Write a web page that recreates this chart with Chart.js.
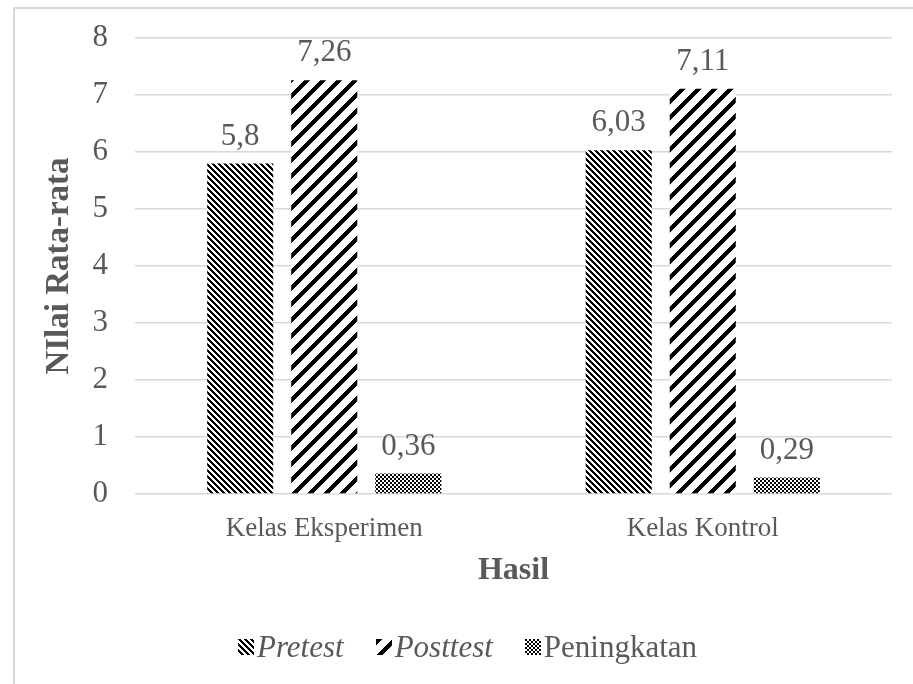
<!DOCTYPE html>
<html>
<head>
<meta charset="utf-8">
<script src="https://cdn.jsdelivr.net/npm/chart.js@4.4.1/dist/chart.umd.min.js"></script>
<style>
  html, body { margin:0; padding:0; background:#fff; }
  body { width:913px; height:684px; position:relative; overflow:hidden; }
  #frame { position:absolute; left:13px; top:7px; width:960px; height:720px;
           border-left:2px solid #d9d9d9; border-top:2px solid #d9d9d9; box-sizing:border-box; }
  #wrap { position:absolute; left:0; top:0; width:913px; height:684px; }
  #legend { position:absolute; left:238px; top:629px; height:36px; display:flex; align-items:center;
            font-family:"Liberation Serif","Times New Roman",serif; font-size:31px; color:#595959; white-space:nowrap; }
  .item { display:flex; align-items:center; margin-right:32px; }
  .item canvas { width:16px; height:16px; margin-right:3px; }
</style>
</head>
<body>
<div id="frame"></div>
<div id="wrap"><canvas id="c"></canvas></div>
<div id="legend"></div>
<script>
// ---- data ----
const categories = ['Kelas Eksperimen', 'Kelas Kontrol'];
const seriesLabels = ['Pretest', 'Posttest', 'Peningkatan'];
const pretest = [5.8, 6.03];
const posttest = [7.26, 7.11];
const peningkatan = [0.36, 0.29];
const yTicks = [0, 1, 2, 3, 4, 5, 6, 7, 8];
const xTitle = 'Hasil';
const yTitle = 'NIlai Rata-rata';

const FONT = '"Liberation Serif","Times New Roman",serif';
const TXT = '#595959';

function makePattern(size, fn) {
  const cv = document.createElement('canvas');
  cv.width = size; cv.height = size;
  const cx = cv.getContext('2d');
  const img = cx.createImageData(size, size);
  for (let y = 0; y < size; y++) for (let x = 0; x < size; x++) {
    const i = (y * size + x) * 4;
    const b = fn(x, y);
    img.data[i] = img.data[i+1] = img.data[i+2] = b ? 0 : 255;
    img.data[i+3] = 255;
  }
  cx.putImageData(img, 0, 0);
  return cx.createPattern(cv, 'repeat');
}
const pPre = makePattern(6, (x, y) => (((x - y) % 6) + 6) % 6 < 3);
const pPost = makePattern(16, (x, y) => ((x + y) % 16) < 6);
const pInc = makePattern(4, (x, y) => ((Math.floor(x/2) + Math.floor(y/2)) % 2) === 0);
const patterns = [pPre, pPost, pInc];
const italic = [true, true, false];

const valueLabels = {
  id: 'valueLabels',
  afterDatasetsDraw(chart) {
    const ctx = chart.ctx;
    ctx.save();
    ctx.font = '31px ' + FONT;
    ctx.fillStyle = TXT;
    ctx.textAlign = 'center';
    ctx.textBaseline = 'middle';
    chart.data.datasets.forEach((ds, di) => {
      chart.getDatasetMeta(di).data.forEach((el, i) => {
        const v = ds.data[i];
        ctx.fillText(String(v).replace('.', ','), el.x, el.y - 27);
      });
    });
    ctx.restore();
  }
};

const chart = new Chart(document.getElementById('c'), {
  type: 'bar',
  data: {
    labels: categories,
    datasets: [
      { label: seriesLabels[0], data: pretest, backgroundColor: pPre },
      { label: seriesLabels[1], data: posttest, backgroundColor: pPost },
      { label: seriesLabels[2], data: peningkatan, backgroundColor: pInc }
    ]
  },
  options: {
    responsive: true,
    maintainAspectRatio: false,
    animation: false,
    devicePixelRatio: 1,
    categoryPercentage: 0.666,
    barPercentage: 0.786,
    layout: { padding: { left: 0, right: 21, top: 38, bottom: 80 } },
    plugins: { legend: { display: false }, tooltip: { enabled: false } },
    scales: {
      x: {
        grid: { display: false, drawTicks: false },
        border: { display: false },
        ticks: { color: TXT, font: { family: FONT, size: 27 }, padding: 19 },
        title: { display: true, text: xTitle, color: TXT,
                 font: { family: FONT, size: 32, weight: 'bold' }, padding: { top: 0, bottom: 14 } },
        afterFit(s) { s.height = 110; s.paddingLeft = 0; s.paddingRight = 0; }
      },
      y: {
        min: 0, max: 8,
        afterBuildTicks(s) { s.ticks = yTicks.map(v => ({ value: v })); },
        grid: { color: '#d9d9d9', lineWidth: 1.4, drawTicks: false },
        border: { display: false },
        ticks: { color: TXT, font: { family: FONT, size: 31 }, padding: 27 },
        title: { display: true, text: yTitle, color: TXT,
                 font: { family: FONT, size: 33, weight: 'bold' }, padding: { top: 40, bottom: 0 } },
        afterFit(s) { s.width = 135; s.paddingTop = 0; s.paddingBottom = 0; }
      }
    }
  },
  plugins: [valueLabels]
});

// HTML legend (mixed italic / regular like the original)
const legend = document.getElementById('legend');
chart.data.datasets.forEach((ds, i) => {
  const item = document.createElement('div');
  item.className = 'item';
  const mk = document.createElement('canvas');
  mk.width = 16; mk.height = 16;
  const mctx = mk.getContext('2d');
  mctx.fillStyle = patterns[i];
  mctx.fillRect(0, 0, 16, 16);
  const span = document.createElement('span');
  span.textContent = ds.label;
  if (italic[i]) span.style.fontStyle = 'italic';
  item.appendChild(mk); item.appendChild(span);
  legend.appendChild(item);
});
</script>
</body>
</html>
